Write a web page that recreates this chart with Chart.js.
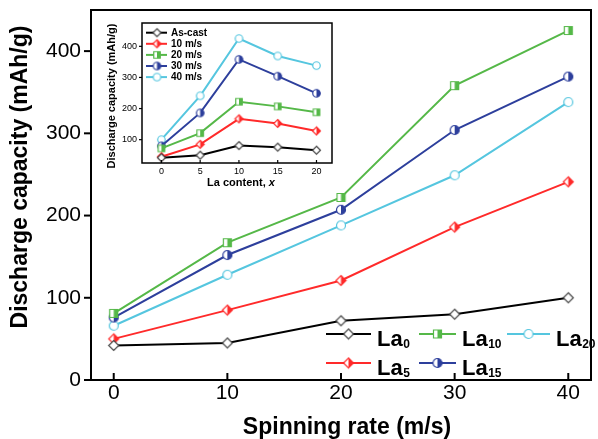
<!DOCTYPE html>
<html>
<head>
<meta charset="utf-8">
<script src="https://cdn.jsdelivr.net/npm/chart.js@4.4.0/dist/chart.umd.min.js"></script>
<style>
  html, body { margin: 0; padding: 0; background: #fff; }
  #wrap { position: relative; width: 598px; height: 439px; }
  #main { position: absolute; left: 0; top: 0; }
  #inset { position: absolute; left: 100px; top: 10px; }
</style>
</head>
<body>
<div id="wrap">
  <canvas id="main" width="598" height="439"></canvas>
  <canvas id="inset" width="245" height="190"></canvas>
</div>
<script>
// datos
const rates = [0, 10, 20, 30, 40];
const la0 = [42, 45, 72, 80, 100];
const la5 = [50, 85, 121, 186, 241];
const la10 = [81, 167, 222, 358, 425];
const la15 = [76, 152, 207, 304, 369];
const la20 = [66, 128, 188, 249, 338];
const seriesSubs = ['0', '5', '10', '15', '20'];

const laContent = [0, 5, 10, 15, 20];
const rateNames = ['As-cast', '10 m/s', '20 m/s', '30 m/s', '40 m/s'];

const xTicksMain = [0, 10, 20, 30, 40];
const yTicksMain = [0, 100, 200, 300, 400];
const xTicksInset = [0, 5, 10, 15, 20];
const yTicksInset = [100, 200, 300, 400];

const fam = '"Liberation Sans", Arial, sans-serif';
const colores = ['#000000', '#ff2a2a', '#55b848', '#2d3f9c', '#55c6df'];
const bordes = ['#444444', '#ff2a2a', '#55b848', '#2d3f9c', '#55c6df'];
const formas = [['diamond', false], ['diamond', true], ['square', true], ['circle', true], ['circle', false]];

// marcador dibujado en un canvas pequeño
function marcador(shape, color, half, d) {
  const s = Math.ceil(d) + 3;
  const c = document.createElement('canvas');
  c.width = s; c.height = s;
  const g = c.getContext('2d');
  const m = s / 2, r = d / 2;
  const path = () => {
    g.beginPath();
    if (shape === 'diamond') {
      g.moveTo(m, m - r); g.lineTo(m + r, m); g.lineTo(m, m + r); g.lineTo(m - r, m); g.closePath();
    } else if (shape === 'square') {
      g.rect(m - r, m - r, d, d);
    } else {
      g.arc(m, m, r, 0, Math.PI * 2);
    }
  };
  path(); g.fillStyle = '#fff'; g.fill();
  if (half) {
    g.save(); g.beginPath(); g.rect(m, 0, s, s); g.clip();
    path(); g.fillStyle = color; g.fill(); g.restore();
  }
  path(); g.lineWidth = 1.2; g.strokeStyle = color; g.stroke();
  return c;
}

function tamano(shape, big) {
  if (shape === 'diamond') return big ? 10 : 8;
  if (shape === 'square') return big ? 8 : 6.5;
  return big ? 9 : 7.5;
}

const marcasMain = formas.map((f, i) => marcador(f[0], bordes[i], f[1], tamano(f[0], true)));
const marcasInset = formas.map((f, i) => marcador(f[0], bordes[i], f[1], tamano(f[0], false)));

// marco, ticks y titulos
function marcoPlugin(o) {
  return {
    id: 'marco',
    afterDraw(chart) {
      const { ctx, chartArea: a, scales: { x, y } } = chart;
      ctx.save();
      ctx.strokeStyle = '#000';
      ctx.lineWidth = o.lw;
      ctx.strokeRect(a.left, a.top, a.right - a.left, a.bottom - a.top);
      ctx.lineWidth = o.tw;
      x.ticks.forEach(t => {
        const px = x.getPixelForValue(t.value);
        ctx.beginPath(); ctx.moveTo(px, a.bottom); ctx.lineTo(px, a.bottom - o.xt); ctx.stroke();
      });
      y.ticks.forEach(t => {
        const py = y.getPixelForValue(t.value);
        ctx.beginPath(); ctx.moveTo(a.left, py); ctx.lineTo(a.left - o.yt, py); ctx.stroke();
      });
      ctx.fillStyle = '#000';
      ctx.textBaseline = 'middle';
      let w = 0;
      o.xTitleParts.forEach(p => { ctx.font = (p[1] ? 'italic bold ' : 'bold ') + o.titleSize + 'px ' + fam; w += ctx.measureText(p[0]).width; });
      let xx = o.xTitlePos[0] - w / 2;
      ctx.textAlign = 'left';
      o.xTitleParts.forEach(p => {
        ctx.font = (p[1] ? 'italic bold ' : 'bold ') + o.titleSize + 'px ' + fam;
        ctx.fillText(p[0], xx, o.xTitlePos[1]);
        xx += ctx.measureText(p[0]).width;
      });
      ctx.textAlign = 'center';
      ctx.font = 'bold ' + o.titleSize + 'px ' + fam;
      ctx.translate(o.yTitlePos[0], o.yTitlePos[1]);
      ctx.rotate(-Math.PI / 2);
      ctx.fillText(o.yTitle, 0, 0);
      ctx.restore();
      if (o.leyenda) o.leyenda(ctx);
    }
  };
}

function sinPadding(s) {
  s.paddingTop = 0; s.paddingBottom = 0; s.paddingLeft = 0; s.paddingRight = 0;
}

function escalas(cfg) {
  return {
    x: {
      type: 'linear', min: cfg.xmin, max: cfg.xmax,
      afterBuildTicks: s => { s.ticks = cfg.xticks.map(v => ({ value: v })); },
      afterFit: s => { s.height = cfg.xh; sinPadding(s); },
      grid: { display: false, drawTicks: false },
      border: { display: false },
      ticks: { padding: cfg.xpad, color: '#000', font: { family: fam, size: cfg.tickSize }, maxRotation: 0, autoSkip: false }
    },
    y: {
      type: 'linear', min: cfg.ymin, max: cfg.ymax,
      afterBuildTicks: s => { s.ticks = cfg.yticks.map(v => ({ value: v })); },
      afterFit: s => { s.width = cfg.yw; sinPadding(s); },
      grid: { display: false, drawTicks: false },
      border: { display: false },
      ticks: { padding: cfg.ypad, color: '#000', font: { family: fam, size: cfg.tickSize } }
    }
  };
}

// grafico principal
const seriesMain = [la0, la5, la10, la15, la20];
const datasetsMain = seriesMain.map((serie, i) => ({
  label: 'La' + seriesSubs[i],
  data: rates.map((r, k) => ({ x: r, y: serie[k] })),
  showLine: true,
  borderColor: colores[i],
  borderWidth: 2,
  pointStyle: marcasMain[i],
  pointRadius: 5
}));

function drawLa(ctx, x, y, sub) {
  ctx.font = 'bold 22px ' + fam;
  ctx.fillText('La', x, y);
  const w = ctx.measureText('La').width;
  ctx.font = 'bold 12px ' + fam;
  ctx.fillText(sub, x + w + 0.5, y + 2);
}

function leyendaMain(ctx) {
  const items = [
    [0, 326, 371, 377, 334], [2, 419, 456, 462, 334], [4, 507, 550, 556, 334],
    [1, 326, 371, 377, 363], [3, 419, 456, 462, 363]
  ];
  ctx.save();
  ctx.fillStyle = '#000';
  ctx.textAlign = 'left';
  ctx.textBaseline = 'alphabetic';
  items.forEach(([i, x1, x2, tx, y]) => {
    ctx.strokeStyle = colores[i]; ctx.lineWidth = 2;
    ctx.beginPath(); ctx.moveTo(x1, y); ctx.lineTo(x2, y); ctx.stroke();
    const m = marcasMain[i];
    ctx.drawImage(m, (x1 + x2) / 2 - m.width / 2, y - m.height / 2);
    drawLa(ctx, tx, y + 12, seriesSubs[i]);
  });
  ctx.restore();
}

new Chart(document.getElementById('main'), {
  type: 'scatter',
  data: { datasets: datasetsMain },
  options: {
    responsive: false,
    animation: false,
    layout: { padding: { top: 10, right: 1, left: 0, bottom: 0 } },
    plugins: { legend: { display: false }, tooltip: { enabled: false } },
    scales: escalas({
      xmin: -2, xmax: 42, ymin: 0, ymax: 450,
      xticks: xTicksMain, yticks: yTicksMain,
      xh: 59, yw: 91, xpad: 1, ypad: 10, tickSize: 21
    })
  },
  plugins: [marcoPlugin({
    lw: 2, tw: 2, xt: 7, yt: 7, titleSize: 23,
    xTitleParts: [['Spinning rate (m/s)', false]], xTitlePos: [347, 428],
    yTitle: 'Discharge capacity (mAh/g)', yTitlePos: [21, 177],
    leyenda: leyendaMain
  })]
});

// grafico insertado: misma informacion por contenido de La
const datasetsInset = rateNames.map((nombre, k) => ({
  label: nombre,
  data: laContent.map((c, i) => ({ x: c, y: seriesMain[i][k] })),
  showLine: true,
  borderColor: colores[k],
  borderWidth: 2,
  pointStyle: marcasInset[k],
  pointRadius: 4
}));

function leyendaInset(ctx) {
  ctx.save();
  ctx.textAlign = 'left';
  ctx.textBaseline = 'middle';
  ctx.font = 'bold 10px ' + fam;
  rateNames.forEach((nombre, k) => {
    const y = 22.7 + k * 11.1;
    ctx.strokeStyle = colores[k]; ctx.lineWidth = 2;
    ctx.beginPath(); ctx.moveTo(46, y); ctx.lineTo(67, y); ctx.stroke();
    const m = marcasInset[k];
    ctx.drawImage(m, 57 - m.width / 2, y - m.height / 2);
    ctx.fillStyle = '#000';
    ctx.fillText(nombre, 71, y + 0.5);
  });
  ctx.restore();
}

new Chart(document.getElementById('inset'), {
  type: 'scatter',
  data: { datasets: datasetsInset },
  options: {
    responsive: false,
    animation: false,
    layout: { padding: { top: 13, right: 13, left: 0, bottom: 0 } },
    plugins: { legend: { display: false }, tooltip: { enabled: false } },
    scales: escalas({
      xmin: -2.5, xmax: 22, ymin: 25, ymax: 475,
      xticks: xTicksInset, yticks: yTicksInset,
      xh: 37, yw: 42, xpad: 3, ypad: 5, tickSize: 9
    })
  },
  plugins: [marcoPlugin({
    lw: 1.5, tw: 1.2, xt: 3, yt: 3, titleSize: 11,
    xTitleParts: [['La content, ', false], ['x', true]], xTitlePos: [141, 173],
    yTitle: 'Discharge capacity (mAh/g)', yTitlePos: [12, 86],
    leyenda: leyendaInset
  })]
});
</script>
</body>
</html>
